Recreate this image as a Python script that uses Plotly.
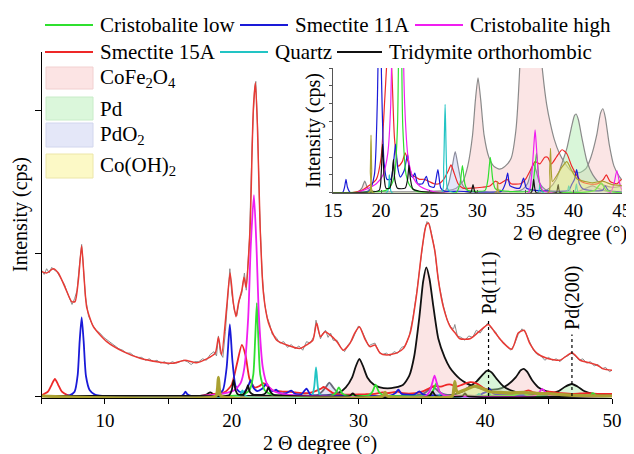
import plotly.graph_objects as go

# ---------------- data (2θ in degrees, intensity in arbitrary units) ----------------
meas_x = [5.0, 5.2, 5.4, 5.6, 5.8, 6.0, 6.2, 6.4, 6.6, 6.8, 7.0, 7.2, 7.4, 7.6, 7.8, 8.0, 8.16, 8.3, 8.45, 8.7,
          9.0, 9.3, 9.6, 9.9, 10.2, 10.5, 10.8, 11.1, 11.4, 11.7, 12.0, 12.3, 12.6, 12.9, 13.2, 13.5, 13.8, 14.1,
          14.4, 14.7, 15.0, 15.3, 15.6, 15.9, 16.2, 16.5, 16.8, 17.1, 17.4, 17.7, 18.0, 18.3, 18.6, 18.8, 18.95,
          19.1, 19.3, 19.5, 19.7, 19.85, 20.0, 20.2, 20.4, 20.6, 20.8, 21.0, 21.15, 21.4, 21.6, 21.8, 21.9, 22.05,
          22.2, 22.4, 22.6, 22.8, 23.0, 23.2, 23.5, 23.8, 24.1, 24.4, 24.7, 25.0, 25.3, 25.6, 25.9, 26.2, 26.5,
          26.65, 26.8, 27.0, 27.2, 27.4, 27.6, 27.8, 28.0, 28.3, 28.6, 28.9, 29.2, 29.5, 29.8, 30.0, 30.2, 30.5,
          30.8, 31.0, 31.3, 31.6, 31.9, 32.2, 32.5, 32.8, 33.1, 33.4, 33.7, 34.0, 34.3, 34.6, 34.9, 35.2, 35.4,
          35.6, 35.8, 36.0, 36.2, 36.4, 36.7, 37.0, 37.3, 37.5, 37.6, 37.8, 38.1, 38.4, 38.7, 39.0, 39.3, 39.6,
          39.9, 40.2, 40.5, 40.8, 41.1, 41.4, 41.7, 42.0, 42.3, 42.6, 42.9, 43.2, 43.5, 43.8, 44.1, 44.4, 44.7,
          45.0, 45.3, 45.6, 45.9, 46.2, 46.5, 46.8, 47.1, 47.4, 47.7, 48.0, 48.3, 48.6, 48.9, 49.2, 49.5, 49.8, 50.0]
meas_y = [0.88, 0.85, 0.89, 0.86, 0.90, 0.88, 0.87, 0.84, 0.81, 0.78, 0.73, 0.69, 0.64, 0.68, 0.74, 0.93, 1.06, 0.90, 0.70, 0.56,
          0.50, 0.46, 0.44, 0.41, 0.39, 0.37, 0.35, 0.33, 0.32, 0.30, 0.30, 0.28, 0.27, 0.27, 0.25, 0.26, 0.24, 0.25,
          0.23, 0.24, 0.22, 0.24, 0.23, 0.24, 0.25, 0.24, 0.22, 0.24, 0.24, 0.26, 0.25, 0.29, 0.31, 0.28, 0.42,
          0.30, 0.27, 0.45, 0.75, 0.89, 0.72, 0.60, 0.56, 0.67, 0.72, 0.86, 0.74, 1.10, 1.75, 2.15, 2.20, 1.85,
          1.30, 0.85, 0.64, 0.55, 0.50, 0.43, 0.41, 0.37, 0.38, 0.34, 0.36, 0.33, 0.35, 0.32, 0.38, 0.37, 0.42,
          0.53, 0.47, 0.40, 0.44, 0.46, 0.41, 0.44, 0.39, 0.39, 0.34, 0.31, 0.36, 0.39, 0.45, 0.49, 0.47, 0.41,
          0.35, 0.36, 0.37, 0.31, 0.29, 0.30, 0.28, 0.31, 0.30, 0.34, 0.35, 0.42, 0.55, 0.73, 0.96, 1.15, 1.22,
          1.20, 1.12, 1.03, 0.88, 0.76, 0.63, 0.53, 0.48, 0.47, 0.50, 0.42, 0.41, 0.39, 0.42, 0.41, 0.46, 0.44,
          0.48, 0.51, 0.47, 0.45, 0.40, 0.38, 0.35, 0.32, 0.36, 0.43, 0.47, 0.44, 0.38, 0.32, 0.29, 0.28, 0.25,
          0.27, 0.25, 0.26, 0.24, 0.27, 0.28, 0.30, 0.28, 0.25, 0.26, 0.23, 0.24, 0.21, 0.22, 0.19, 0.20, 0.17, 0.18]

fit_x = [5.0, 5.4, 5.92, 6.32, 6.85, 7.37, 7.64, 7.9, 8.16, 8.35, 8.56, 9.08, 10.14, 11.45, 12.77, 14.08, 15.4,
         16.3, 17.24, 18.03, 18.7, 18.95, 19.2, 19.6, 19.87, 20.13, 20.34, 20.53, 20.8, 20.97, 21.13, 21.45, 21.7,
         21.87, 22.03, 22.24, 22.5, 22.9, 23.55, 24.35, 25.4, 25.9, 26.4, 26.7, 27.0, 27.37, 27.76, 28.3, 28.8,
         29.34, 29.7, 30.07, 30.5, 30.9, 31.3, 31.7, 32.24, 33.0, 33.55, 34.08, 34.6, 35.0, 35.34, 35.52, 35.8,
         36.05, 36.3, 36.7, 37.23, 37.63, 38.0, 38.8, 39.5, 40.26, 40.8, 41.44, 42.1, 42.6, 43.07, 43.5, 44.07,
         44.86, 45.9, 46.84, 47.5, 48.3, 48.8, 49.3, 50.0]
fit_y = [0.87, 0.86, 0.89, 0.86, 0.76, 0.66, 0.66, 0.81, 1.05, 0.83, 0.62, 0.485, 0.38, 0.31, 0.264, 0.24, 0.229,
         0.25, 0.233, 0.26, 0.30, 0.41, 0.287, 0.62, 0.86, 0.65, 0.555, 0.65, 0.74, 0.83, 0.76, 1.18, 2.0,
         2.19, 1.88, 1.18, 0.72, 0.51, 0.39, 0.357, 0.333, 0.357, 0.39, 0.51, 0.415, 0.45, 0.427, 0.38, 0.32,
         0.37, 0.44, 0.485, 0.40, 0.345, 0.357, 0.30, 0.287, 0.30, 0.333, 0.44, 0.72, 1.02, 1.195, 1.21, 1.11,
         1.0, 0.81, 0.62, 0.485, 0.44, 0.40, 0.40, 0.45, 0.50, 0.44, 0.37, 0.327, 0.44, 0.46, 0.37, 0.30,
         0.264, 0.25, 0.303, 0.25, 0.23, 0.217, 0.19, 0.18]

smec11_x = [5.0, 7.2, 7.6, 7.85, 8.0, 8.16, 8.32, 8.5, 8.8, 9.2, 9.6, 10.0, 16.0, 16.2, 16.35, 16.5, 16.8, 18.8,
            19.3, 19.6, 19.85, 20.05, 20.3, 20.6, 21.0, 21.3, 21.5, 21.7, 22.0, 22.4, 22.75, 23.05, 23.3, 23.5,
            23.8, 24.3, 24.7, 25.0, 25.5, 25.9, 26.2, 26.6, 28.0, 32.5, 32.9, 33.15, 33.4, 34.4, 34.8, 35.1, 36.0,
            39.5, 39.8, 40.1, 40.32, 40.6, 41.0, 43.0, 43.3, 43.6, 50.0]
smec11_y = [0.0, 0.005, 0.03, 0.15, 0.38, 0.55, 0.38, 0.14, 0.04, 0.01, 0.003, 0.0, 0.0, 0.012, 0.03, 0.012, 0.0, 0.005,
            0.04, 0.2, 0.50, 0.25, 0.07, 0.03, 0.03, 0.07, 0.11, 0.06, 0.035, 0.05, 0.086, 0.04, 0.035, 0.044,
            0.02, 0.02, 0.037, 0.015, 0.012, 0.052, 0.01, 0.003, 0.003, 0.003, 0.02, 0.044, 0.015, 0.01, 0.033, 0.01, 0.005,
            0.005, 0.018, 0.03, 0.052, 0.02, 0.008, 0.005, 0.015, 0.005, 0.0]

smec15_x = [5.0, 5.5, 5.8, 6.05, 6.3, 6.6, 7.0, 7.5, 17.0, 18.0, 18.5, 19.5, 20.0, 20.4, 20.8, 21.1, 21.4, 21.8,
            22.2, 22.5, 22.8, 23.2, 23.6, 24.0, 24.5, 25.0, 25.5, 26.0, 26.5, 27.0, 27.26, 27.5, 28.0, 28.5, 29.5,
            30.5, 31.3, 31.9, 32.3, 32.7, 33.1, 33.5, 34.5, 35.0, 35.5, 36.0, 36.5, 37.0, 37.3, 37.7, 38.2, 38.8,
            39.3, 39.8, 40.3, 40.8, 41.5, 42.5, 43.1, 43.4, 43.8, 44.5, 45.0, 46.0, 47.0, 48.0, 49.0, 50.0]
smec15_y = [0.005, 0.03, 0.08, 0.12, 0.08, 0.03, 0.008, 0.0, 0.0, 0.005, 0.012, 0.03, 0.08, 0.22, 0.357, 0.28, 0.12, 0.06,
            0.07, 0.09, 0.07, 0.04, 0.035, 0.03, 0.03, 0.025, 0.02, 0.02, 0.03, 0.05, 0.063, 0.05, 0.02, 0.01, 0.01,
            0.012, 0.015, 0.026, 0.02, 0.025, 0.03, 0.02, 0.02, 0.03, 0.05, 0.07, 0.065, 0.08, 0.08, 0.065, 0.08, 0.097,
            0.088, 0.06, 0.04, 0.025, 0.02, 0.02, 0.03, 0.04, 0.025, 0.02, 0.03, 0.02, 0.015, 0.02, 0.015, 0.015]

cris_high_x = [17.5, 18.5, 19.5, 20.2, 20.7, 21.0, 21.3, 21.5, 21.75, 21.95, 22.15, 22.45, 22.8, 23.3, 24.0, 25.0,
               26.0, 35.3, 35.6, 35.85, 36.0, 36.15, 36.4, 36.8, 37.5, 43.8, 44.2, 44.5, 44.8, 45.2, 50.0]
cris_high_y = [0.0, 0.008, 0.02, 0.04, 0.09, 0.2, 0.55, 1.05, 1.405, 1.05, 0.55, 0.2, 0.08, 0.035, 0.015, 0.005,
               0.0, 0.0, 0.03, 0.1, 0.142, 0.1, 0.03, 0.005, 0.0, 0.0, 0.02, 0.05, 0.02, 0.0, 0.0]

cris_low_x = [5.0, 20.5, 21.0, 21.4, 21.7, 21.85, 21.98, 22.1, 22.25, 22.6, 23.0, 23.5, 24.5, 27.8, 28.2, 28.45,
              28.7, 29.0, 30.8, 31.1, 31.35, 31.6, 31.9, 35.6, 35.9, 36.15, 36.4, 36.7, 40.0, 42.2, 42.9, 43.4,
              48.2, 48.5, 48.8, 50.0]
cris_low_y = [0.0, 0.005, 0.015, 0.04, 0.15, 0.4, 0.65, 0.4, 0.15, 0.04, 0.015, 0.005, 0.0, 0.0, 0.02, 0.061,
              0.02, 0.005, 0.005, 0.03, 0.08, 0.03, 0.008, 0.005, 0.04, 0.09, 0.03, 0.005, 0.0, 0.005, 0.022, 0.005,
              0.0, 0.02, 0.0, 0.0]

quartz_x = [5.0, 20.6, 20.85, 21.1, 26.3, 26.5, 26.65, 26.8, 27.0, 36.3, 36.55, 36.8, 39.3, 39.5, 39.7, 40.1,
            40.3, 40.5, 50.0]
quartz_y = [0.0, 0.0, 0.04, 0.0, 0.0, 0.06, 0.2, 0.06, 0.005, 0.0, 0.02, 0.0, 0.0, 0.015, 0.0, 0.0,
            0.02, 0.0, 0.0]

tridymite_x = [5.0, 17.5, 19.8, 20.0, 20.15, 20.3, 20.5, 20.9, 21.15, 21.28, 21.42, 21.7, 22.5, 22.75, 22.9, 23.05,
               23.3, 24.0, 29.3, 29.55, 29.8, 35.6, 35.85, 36.1, 38.2, 38.4, 38.6, 50.0]
tridymite_y = [0.0, 0.0, 0.005, 0.04, 0.11, 0.04, 0.01, 0.01, 0.04, 0.075, 0.03, 0.01, 0.01, 0.03, 0.062, 0.03,
               0.008, 0.003, 0.0, 0.018, 0.0, 0.0, 0.03, 0.0, 0.0, 0.018, 0.0, 0.0]

cofe2o4_x = [5.0, 17.5, 18.0, 18.3, 18.6, 19.2, 27.0, 27.8, 28.5, 29.0, 29.5, 29.8, 30.07, 30.35, 30.7, 31.2, 31.7,
             32.3, 32.9, 33.5, 34.0, 34.4, 34.8, 35.1, 35.35, 35.6, 35.9, 36.3, 36.8, 37.2, 37.6, 38.0, 38.5,
             39.0, 39.7, 40.6, 41.3, 41.8, 42.4, 42.8, 43.05, 43.3, 43.7, 44.2, 44.8, 45.5, 46.5, 48.0, 50.0]
cofe2o4_y = [0.0, 0.0, 0.01, 0.026, 0.01, 0.003, 0.005, 0.01, 0.025, 0.06, 0.13, 0.21, 0.26, 0.21, 0.13, 0.08, 0.06,
             0.053, 0.06, 0.077, 0.14, 0.28, 0.55, 0.80, 0.90, 0.82, 0.63, 0.40, 0.27, 0.20, 0.155, 0.12, 0.09,
             0.07, 0.05, 0.045, 0.055, 0.08, 0.13, 0.18, 0.19, 0.17, 0.11, 0.06, 0.035, 0.02, 0.01, 0.005, 0.0]

pd_x = [5.0, 36.5, 37.5, 38.2, 38.85, 39.3, 39.8, 40.1, 40.26, 40.5, 40.9, 41.4, 42.0, 42.8, 44.0, 45.0, 45.8, 46.3,
        46.84, 47.3, 47.8, 48.5, 49.3, 50.0]
pd_y = [0.0, 0.0, 0.01, 0.03, 0.07, 0.1, 0.15, 0.175, 0.178, 0.165, 0.12, 0.07, 0.04, 0.02, 0.012, 0.015, 0.035, 0.065,
        0.084, 0.065, 0.035, 0.015, 0.008, 0.005]

pdo2_x = [5.0, 26.5, 27.0, 27.4, 27.7, 28.0, 28.4, 29.0, 34.5, 35.2, 35.6, 35.85, 36.1, 36.5, 37.2, 40.5, 41.5,
          42.0, 42.5, 43.5, 50.0]
pdo2_y = [0.0, 0.0, 0.02, 0.06, 0.093, 0.06, 0.02, 0.005, 0.005, 0.02, 0.05, 0.065, 0.05, 0.02, 0.005, 0.003, 0.012,
          0.015, 0.01, 0.003, 0.0]

cooh2_x = [5.0, 18.75, 18.88, 18.95, 19.02, 19.15, 31.95, 32.1, 32.25, 37.4, 37.52, 37.6, 37.68, 37.8, 38.3, 38.8,
           39.3, 39.8, 40.4, 41.2, 42.0, 43.0, 44.0, 45.0, 46.0, 47.0, 50.0]
cooh2_y = [0.0, 0.0, 0.05, 0.13, 0.05, 0.0, 0.0, 0.025, 0.0, 0.0, 0.05, 0.1, 0.05, 0.025, 0.04, 0.058,
           0.07, 0.05, 0.03, 0.025, 0.022, 0.026, 0.018, 0.016, 0.01, 0.005, 0.0]

pd_ref_x = [40.26, 46.84]
pd_ref_labels = ["Pd(111)", "Pd(200)"]
pd_ref_label_y = [0.79, 0.685]
pd_ref_line_top = [0.53, 0.43]

main_xticks = [10, 20, 30, 40, 50]
main_xminor = [5, 15, 25, 35, 45]
main_yticks = [0, 1, 2]
inset_xticks = [15, 20, 25, 30, 35, 40, 45]

line_legend = ["Cristobalite low", "Smectite 11A", "Cristobalite high",
               "Smectite 15A", "Quartz", "Tridymite orthorhombic"]
fill_legend = ["CoFe<sub>2</sub>O<sub>4</sub>", "Pd", "PdO<sub>2</sub>", "Co(OH)<sub>2</sub>"]

# ---------------- styles ----------------
FONT = "Liberation Serif, Times New Roman, serif"
C_GREEN = "#2fe02f"
C_BLUE = "#1a1ad8"
C_MAG = "#f01ef0"
C_RED = "#ee2828"
C_CYAN = "#22c4c4"
C_BLACK = "#111111"
C_OLIVE = "#aaa132"
C_FIT = "#e83a34"
C_GRAY = "#8c8c8c"
F_PINK = "rgba(246,190,190,0.40)"
F_GREEN = "rgba(170,236,170,0.45)"
F_LAV = "rgba(185,192,240,0.40)"
F_YEL = "rgba(250,240,130,0.40)"

# the page places the figure 8 px in from the top-left corner of the window
OFF = 8
W, H = 634 - OFF, 454 - OFF


def fx(p):
    """window x pixel -> paper fraction"""
    return (p - OFF) / W


def fy(p):
    """window y pixel -> paper fraction"""
    return 1 - (p - OFF) / H


fig = go.Figure()

fills = [
    (cofe2o4_x, cofe2o4_y, F_PINK),
    (pd_x, pd_y, F_GREEN),
    (pdo2_x, pdo2_y, F_LAV),
]
fill_line_main = [C_BLACK, C_BLACK, "#6a6a7a"]
fill_line_inset = ["#8a8a8a", "#8a8a8a", "#8a8a9a"]

lines = [
    (smec15_x, smec15_y, C_RED),
    (smec11_x, smec11_y, C_BLUE),
    (quartz_x, quartz_y, C_CYAN),
    (cris_low_x, cris_low_y, C_GREEN),
    (cris_high_x, cris_high_y, C_MAG),
    (tridymite_x, tridymite_y, C_BLACK),
]

for ax, wl in (("", 1.8), ("2", 1.2)):
    xa, ya = "x" + ax, "y" + ax
    for i, (lx, ly, fc) in enumerate(fills):
        lc = fill_line_main[i] if ax == "" else fill_line_inset[i]
        fig.add_trace(go.Scatter(x=lx, y=ly, mode="lines", fill="tozeroy", fillcolor=fc,
                                 line=dict(color=lc, width=wl, shape="spline", smoothing=0.6),
                                 xaxis=xa, yaxis=ya, showlegend=False, hoverinfo="skip"))
    for lx, ly, lc in lines:
        fig.add_trace(go.Scatter(x=lx, y=ly, mode="lines",
                                 line=dict(color=lc, width=wl, shape="spline", smoothing=0.6),
                                 xaxis=xa, yaxis=ya, showlegend=False, hoverinfo="skip"))
    # Co(OH)2 drawn last among the phases (forms the olive band along the baseline)
    fig.add_trace(go.Scatter(x=cooh2_x, y=cooh2_y, mode="lines", fill="tozeroy", fillcolor=F_YEL,
                             line=dict(color=C_OLIVE, width=3.2 if ax == "" else 1.2, shape="spline",
                                       smoothing=0.6),
                             xaxis=xa, yaxis=ya, showlegend=False, hoverinfo="skip"))

# measured data and total fit (main plot only)
fig.add_trace(go.Scatter(x=meas_x, y=meas_y, mode="lines", line=dict(color=C_GRAY, width=1),
                         showlegend=False, hoverinfo="skip"))
fig.add_trace(go.Scatter(x=fit_x, y=fit_y, mode="lines",
                         line=dict(color=C_FIT, width=1.5, shape="spline", smoothing=0.6),
                         showlegend=False, hoverinfo="skip"))

shapes = []
annotations = []

# Pd reference markers
for xv, lab, ly, lt in zip(pd_ref_x, pd_ref_labels, pd_ref_label_y, pd_ref_line_top):
    shapes.append(dict(type="line", xref="x", yref="y", x0=xv, x1=xv, y0=0, y1=lt,
                       line=dict(color="black", width=1.2, dash="dot")))
    annotations.append(dict(x=xv, y=ly, xref="x", yref="y", text=lab, textangle=-90, showarrow=False,
                            xanchor="center", yanchor="middle",
                            font=dict(family=FONT, size=20, color="black")))

# legend: line entries
leg_line_cols = [C_GREEN, C_BLUE, C_MAG, C_RED, C_CYAN, C_BLACK]
leg_line_pos = [(45, 93, 25), (240, 288, 25), (415, 463, 25), (45, 93, 52), (220, 268, 52), (337, 382, 52)]
for name, col, (x0, x1, yy) in zip(line_legend, leg_line_cols, leg_line_pos):
    shapes.append(dict(type="line", xref="paper", yref="paper", x0=fx(x0), x1=fx(x1), y0=fy(yy), y1=fy(yy),
                       line=dict(color=col, width=2)))
    annotations.append(dict(x=fx(x1 + 5), y=fy(yy), xref="paper", yref="paper", text=name, showarrow=False,
                            xanchor="left", yanchor="middle", font=dict(family=FONT, size=21, color="black")))

# legend: fill entries
leg_fill_cols = [("#fce4e4", "#f2d0d0"), ("#dbf7db", "#c8ecc8"), ("#e4e7f8", "#d2d6ee"), ("#fcf9c6", "#ece6a8")]
leg_fill_pos = [(67, 89), (97, 120), (123, 147), (154, 178)]
for name, (fc, lc), (y0, y1) in zip(fill_legend, leg_fill_cols, leg_fill_pos):
    shapes.append(dict(type="rect", xref="paper", yref="paper", x0=fx(46), x1=fx(93), y0=fy(y1), y1=fy(y0),
                       fillcolor=fc, line=dict(color=lc, width=1), layer="above"))
    annotations.append(dict(x=fx(98), y=fy((y0 + y1) / 2), xref="paper", yref="paper", text=name, showarrow=False,
                            xanchor="left", yanchor="middle", font=dict(family=FONT, size=21, color="black")))

# axis titles
titles = [
    (320, 443, "2 Θ degree (°)", 0, 20),
    (20, 215, "Intensity (cps)", -90, 20),
    (570, 233, "2 Θ degree (°)", 0, 20),
    (313, 131, "Intensity (cps)", -90, 20),
]
for tx, ty, txt, ang, sz in titles:
    annotations.append(dict(x=fx(tx), y=fy(ty), xref="paper", yref="paper", text=txt, showarrow=False,
                            textangle=ang, xanchor="center", yanchor="middle",
                            font=dict(family=FONT, size=sz, color="black")))

axis_common = dict(showgrid=False, zeroline=False, automargin=False, showline=True, linewidth=1)

fig.update_layout(
    width=W, height=H, margin=dict(l=0, r=0, t=0, b=0, pad=0, autoexpand=False),
    paper_bgcolor="white", plot_bgcolor="rgba(0,0,0,0)",
    font=dict(family=FONT, size=20, color="black"),
    showlegend=False, shapes=shapes, annotations=annotations,
    xaxis=dict(domain=[fx(41.6), fx(612)], range=[5, 50], tickvals=main_xticks,
               linecolor="black", ticks="outside", ticklen=5, tickcolor="black",
               minor=dict(tickvals=main_xminor, ticks="outside", ticklen=5, tickcolor="black"),
               ticklabelstandoff=0, tickfont=dict(size=19), **axis_common),
    yaxis=dict(domain=[fy(398), fy(52)], range=[-0.014, 2.4056], tickvals=main_yticks, showticklabels=False,
               linecolor="black", ticks="outside", ticklen=6, tickcolor="black", **axis_common),
    xaxis2=dict(domain=[fx(333), fx(621.7)], range=[15, 45], anchor="y2", tickvals=inset_xticks,
                linecolor="#555", ticks="inside", ticklen=3, tickcolor="#555",
                tickfont=dict(size=19), **axis_common),
    yaxis2=dict(domain=[fy(193), fy(68)], range=[-0.001, 0.2823], anchor="x2", tick0=0, dtick=0.0403,
                showticklabels=False, linecolor="#555", ticks="outside", ticklen=3,
                tickcolor="#555", **axis_common),
)

fig.write_html("out.html")
